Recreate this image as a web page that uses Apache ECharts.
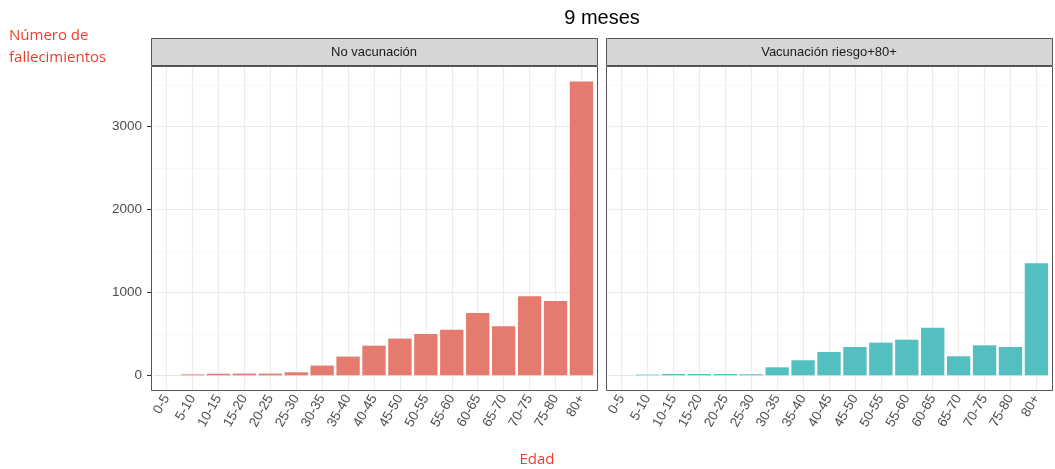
<!DOCTYPE html>
<html>
<head>
<meta charset="utf-8">
<script src="https://cdn.jsdelivr.net/npm/echarts@6/dist/echarts.min.js"></script>
<style>
html,body{margin:0;padding:0;background:#fff;}
#chart{width:1055px;height:469px;}
</style>
</head>
<body>
<div id="chart"></div>
<script>
// datos
var edades = ['0-5','5-10','10-15','15-20','20-25','25-30','30-35','35-40','40-45','45-50','50-55','55-60','60-65','65-70','70-75','75-80','80+'];
var noVacunacion = [1,10,18,20,20,36,117,225,357,442,498,550,751,590,952,895,3542];
var vacunacion = [1,8,15,15,15,12,96,181,281,341,393,429,573,229,361,341,1349];
var paneles = ['No vacunación','Vacunación riesgo+80+'];
var ticksY = [0,1000,2000,3000];
var gridMayor = [0,1000,2000,3000];
var gridMenor = [500,1500,2500,3500];

var panelX = [151,606], panelW = 446, panelTop = 66, panelH = 324;
var banda = panelW/17.2;

function lineasGuia(){
	var d = [];
	for(var i=0;i<edades.length;i++){
		d.push({xAxis: edades[i], lineStyle:{color:'#ebebeb',width:1.1,type:'solid'}});
	}
	for(var i=0;i<gridMenor.length;i++){
		d.push({yAxis: gridMenor[i], lineStyle:{color:'#f4f4f4',width:0.7,type:'solid'}});
	}
	for(var i=0;i<gridMayor.length;i++){
		d.push({yAxis: gridMayor[i], lineStyle:{color:'#ebebeb',width:1.1,type:'solid'}});
	}
	return d;
}

var grids = [], xAxes = [], yAxes = [], series = [], graficos = [];
var datos = [noVacunacion, vacunacion];
var colores = ['#e47b6e','#53bfc1'];
for(var p=0;p<2;p++){
	grids.push({left: panelX[p]+banda*0.1, top: panelTop, width: banda*17, height: panelH, containLabel:false});
	xAxes.push({
		type:'category', gridIndex:p, data: edades,
		axisLine:{show:false},
		axisTick:{show:true, alignWithLabel:true, length:4, lineStyle:{color:'#333'}},
		axisLabel:{rotate:60, margin:6, color:'#4d4d4d', fontSize:13.5, fontFamily:'Liberation Sans, Arial, sans-serif', interval:0},
		splitLine:{show:false}
	});
	yAxes.push({
		type:'value', gridIndex:p, min:-177.5, max:3727.5, offset: banda*0.1,
		axisLine:{show:false},
		axisTick:{show:p==0, length:4, lineStyle:{color:'#333'}, customValues: ticksY},
		axisLabel:{show:p==0, color:'#4d4d4d', fontSize:13.5, margin:9, fontFamily:'Liberation Sans, Arial, sans-serif', customValues: ticksY,
			formatter:function(v){ return String(v); }},
		splitLine:{show:false}
	});
	series.push({
		type:'line', xAxisIndex:p, yAxisIndex:p, data:[], z:1, silent:true,
		markLine:{silent:true, z:1, symbol:'none', label:{show:false}, animation:false, data: lineasGuia()}
	});
	series.push({
		type:'bar', xAxisIndex:p, yAxisIndex:p, data: datos[p], z:3,
		barCategoryGap:'10%',
		itemStyle:{color: colores[p]}
	});
	// borde del panel y tira
	graficos.push({type:'rect', shape:{x:panelX[p]+0.5, y:panelTop+0.5, width:panelW, height:panelH}, style:{fill:'none', stroke:'#555', lineWidth:1}, z:100});
	graficos.push({type:'rect', shape:{x:panelX[p]+0.5, y:38.5, width:panelW, height:27}, style:{fill:'#d6d6d6', stroke:'#555', lineWidth:1}, z:100});
	graficos.push({type:'text', x:panelX[p]+panelW/2, y:52, style:{text:paneles[p], fill:'#1a1a1a', font:'13px "Liberation Sans", Arial, sans-serif', align:'center', verticalAlign:'middle'}, z:101});
}
graficos.push({type:'text', x:602, y:18, style:{text:'9 meses', fill:'#000', font:'20px "Liberation Sans", Arial, sans-serif', align:'center', verticalAlign:'middle'}, z:101});
graficos.push({type:'text', x:9, y:25, style:{text:'Número de\nfallecimientos', fill:'#f23b2c', font:'15px "Open Sans", sans-serif', lineHeight:22, align:'left', verticalAlign:'top'}, z:101});
graficos.push({type:'text', x:537, y:460, style:{text:'Edad', fill:'#f23b2c', font:'15px "Open Sans", sans-serif', align:'center', verticalAlign:'middle'}, z:101});

var myChart = echarts.init(document.getElementById('chart'));
var option = {
	animation:false,
	backgroundColor:'#fff',
	grid: grids,
	xAxis: xAxes,
	yAxis: yAxes,
	series: series,
	graphic: graficos
};
myChart.setOption(option);
</script>
</body>
</html>
